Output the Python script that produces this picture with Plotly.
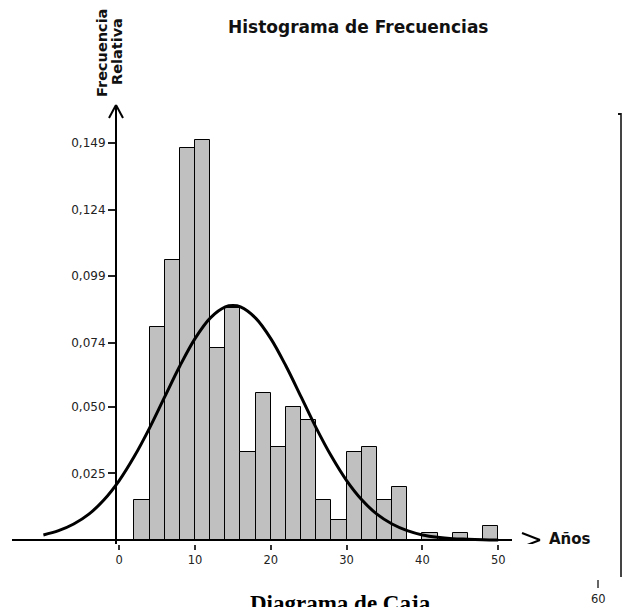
import plotly.graph_objects as go

# histograma: clases de 2 años (centro de clase) y frecuencia relativa
bin_centers = [3, 5, 7, 9, 11, 13, 15, 17, 19, 21, 23, 25,
               27, 29, 31, 33, 35, 37, 39, 41, 43, 45, 47, 49]
rel_freq = [0.015, 0.080, 0.105, 0.147, 0.150, 0.072, 0.087, 0.033,
            0.055, 0.035, 0.050, 0.045, 0.015, 0.0075, 0.033, 0.035,
            0.015, 0.020, 0.0, 0.0026, 0.0, 0.0026, 0.0, 0.0053]

# curva normal
curve_x = [-10, -8, -6, -4, -2, 0, 2, 4, 6, 8, 10, 12, 14, 15, 16, 18,
           20, 22, 24, 26, 28, 30, 32, 34, 36, 38, 40, 42, 44, 46, 48, 50]
curve_y = [0.0019, 0.0035, 0.0060, 0.0097, 0.0151, 0.0223, 0.0314, 0.0420,
           0.0537, 0.0653, 0.0756, 0.0833, 0.0875, 0.0880, 0.0875, 0.0833,
           0.0756, 0.0653, 0.0537, 0.0420, 0.0314, 0.0223, 0.0151, 0.0097,
           0.0060, 0.0035, 0.0019, 0.0010, 0.0005, 0.0003, 0.0001, 0.0]

y_tickvals = [0.025, 0.050, 0.074, 0.099, 0.124, 0.149]
y_ticktext = ["0,025", "0,050", "0,074", "0,099", "0,124", "0,149"]
x_tickvals = [0, 10, 20, 30, 40, 50]

W, H = 623, 607
L, R, T, B = 12, 83, 105, 63
PX_PER_X = 7.58      # pixeles por año
PX_PER_Y = 2664.0    # pixeles por unidad de frecuencia
X0_PX = 119.2        # pixel del valor 0 en x

plot_w = W - L - R
plot_h = H - T - B
x_min = (L - X0_PX) / PX_PER_X
x_max = (W - R - X0_PX) / PX_PER_X
y_min = -4 / PX_PER_Y
y_max = 435 / PX_PER_Y


def px(xp):
    return (xp - L) / plot_w


def py(yp):
    return (H - B - yp) / plot_h


fig = go.Figure()

fig.add_trace(go.Bar(
    x=bin_centers,
    y=rel_freq,
    width=2,
    marker=dict(color="#c0c0c0", line=dict(color="#000000", width=1)),
    showlegend=False,
))

fig.add_trace(go.Scatter(
    x=curve_x,
    y=curve_y,
    mode="lines",
    line=dict(color="#000000", width=3, shape="spline"),
    showlegend=False,
))

lw = 2
shapes = [
    # eje x con flecha
    dict(type="line", xref="paper", yref="y", x0=0, x1=px(512), y0=0, y1=0,
         line=dict(color="black", width=lw)),
    dict(type="line", xref="paper", yref="y", x0=px(522), x1=px(540),
         y0=7 / PX_PER_Y, y1=0, line=dict(color="black", width=lw)),
    dict(type="line", xref="paper", yref="y", x0=px(522), x1=px(540),
         y0=-7 / PX_PER_Y, y1=0, line=dict(color="black", width=lw)),
    # flecha del eje y
    dict(type="line", xref="paper", yref="paper", x0=px(109), x1=px(116),
         y0=py(118), y1=py(105), line=dict(color="black", width=lw)),
    dict(type="line", xref="paper", yref="paper", x0=px(123), x1=px(116),
         y0=py(118), y1=py(105), line=dict(color="black", width=lw)),
    # borde del diagrama de caja (recortado)
    dict(type="line", xref="paper", yref="paper", x0=px(621), x1=px(621),
         y0=py(113), y1=py(577), line=dict(color="#444444", width=2)),
    dict(type="line", xref="paper", yref="paper", x0=px(618), x1=px(621),
         y0=py(114), y1=py(114), line=dict(color="#111111", width=2)),
    dict(type="line", xref="paper", yref="paper", x0=px(598), x1=px(598),
         y0=py(580), y1=py(588), line=dict(color="#333333", width=1.5)),
]

annotations = [
    dict(text="Histograma de Frecuencias", xref="paper", yref="paper",
         x=px(358), y=py(27), showarrow=False, xanchor="center", yanchor="middle",
         font=dict(family="DejaVu Sans", size=17, color="#111111", weight="bold")),
    dict(text="Frecuencia", xref="paper", yref="paper",
         x=px(102), y=py(53), showarrow=False, textangle=-90,
         xanchor="center", yanchor="middle",
         font=dict(family="DejaVu Sans", size=14.5, color="#111111", weight="bold")),
    dict(text="Relativa", xref="paper", yref="paper",
         x=px(117), y=py(52), showarrow=False, textangle=-90,
         xanchor="center", yanchor="middle",
         font=dict(family="DejaVu Sans", size=14.5, color="#111111", weight="bold")),
    dict(text="Años", xref="paper", yref="paper", x=px(570), y=py(539),
         showarrow=False, xanchor="center", yanchor="middle",
         font=dict(family="DejaVu Sans", size=15, color="#111111", weight="bold")),
    dict(text="60", xref="paper", yref="paper", x=px(598), y=py(599),
         showarrow=False, xanchor="center", yanchor="middle",
         font=dict(family="DejaVu Sans", size=11.5, color="#222222")),
    dict(text="Diagrama de Caja", xref="paper", yref="paper", x=px(340), y=py(603),
         showarrow=False, xanchor="center", yanchor="middle",
         font=dict(family="Liberation Serif", size=23, color="#000000", weight="bold")),
]

fig.update_layout(
    width=W,
    height=H,
    margin=dict(l=L, r=R, t=T, b=B),
    plot_bgcolor="white",
    paper_bgcolor="white",
    bargap=0,
    shapes=shapes,
    annotations=annotations,
    xaxis=dict(
        range=[x_min, x_max],
        tickvals=x_tickvals,
        ticks="outside", ticklen=5, tickwidth=1.5, tickcolor="#333333",
        showline=False, showgrid=False, zeroline=False,
        tickfont=dict(family="DejaVu Sans", size=11.5, color="#222222"),
    ),
    yaxis=dict(
        range=[y_min, y_max],
        tickvals=y_tickvals,
        ticktext=y_ticktext,
        anchor="free",
        position=px(116),
        ticks="outside", ticklen=7, tickwidth=1.5, tickcolor="#222222",
        showline=True, linecolor="black", linewidth=lw,
        showgrid=False, zeroline=False,
        tickfont=dict(family="DejaVu Sans", size=12, color="#222222"),
    ),
)

# sin margen de pagina, para que la figura ocupe toda la ventana
fig.write_html("out.html",
               config={"displayModeBar": False},
               post_script="document.body.style.margin='0';"
                           "document.body.style.overflow='hidden';")
